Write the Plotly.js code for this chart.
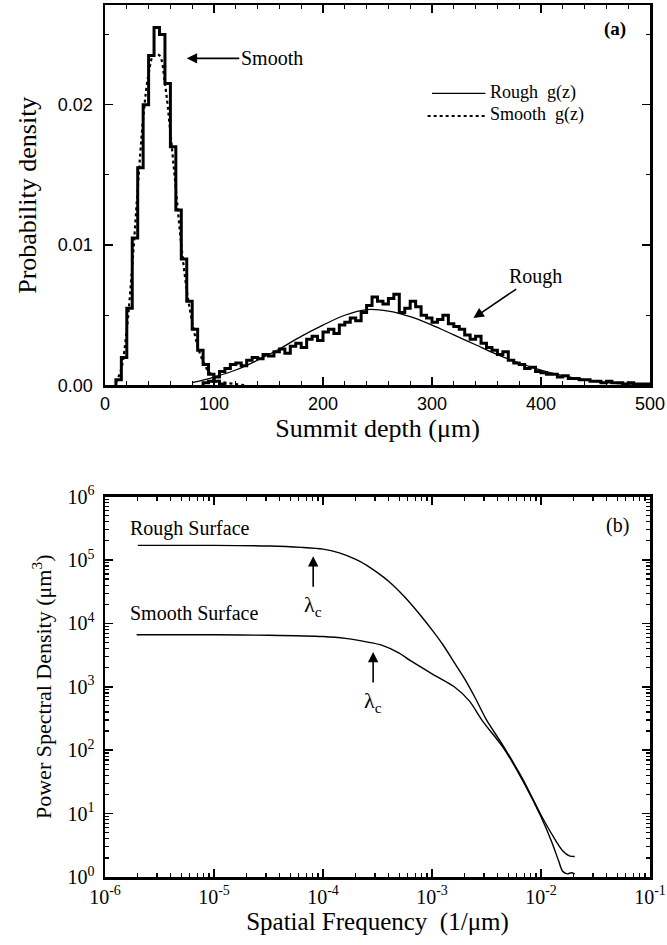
<!DOCTYPE html>
<html><head><meta charset="utf-8">
<script src="https://cdn.plot.ly/plotly-3.0.1.min.js"></script>
<style>body{margin:0;background:#fff}</style>
</head><body><div id="chart" style="width:667px;height:945px"></div>
<script>
// ---------- Panel (a): summit depth histograms ----------
const binWidth = 5;
const smoothBinStart = [10,15,20,25,30,35,40,45,50,55,60,65,70,75,80,85,90,95,100,105];
const smoothHist = [0.0004,0.0020,0.0055,0.0105,0.0155,0.0200,0.0235,0.0255,0.0250,0.0215,0.0170,0.0125,0.0090,0.0060,0.0040,0.0025,0.0015,0.0008,0.0003,0.0001];
const roughBinStart = [90,95,100,105,110,115,120,125,130,135,140,145,150,155,160,165,170,175,180,185,190,195,200,205,210,215,220,225,230,235,240,245,250,255,260,265,270,275,280,285,290,295,300,305,310,315,320,325,330,335,340,345,350,355,360,365,370,375,380,385,390,395,400,405,410,415,420,425,430,435,440,445,450,455,460,465,470,475,480,485,490,495];
const roughHist = [0.0002,0.0003,0.0006,0.0010,0.0012,0.0015,0.0016,0.0014,0.0018,0.0020,0.0019,0.0022,0.0021,0.0024,0.0026,0.0023,0.0028,0.0030,0.0027,0.0033,0.0035,0.0032,0.0038,0.0040,0.0037,0.0043,0.0045,0.0048,0.0046,0.0052,0.0057,0.0063,0.0060,0.0058,0.0062,0.0065,0.0052,0.0055,0.0060,0.0056,0.0050,0.0048,0.0045,0.0047,0.0050,0.0044,0.0042,0.0040,0.0036,0.0033,0.0035,0.0030,0.0027,0.0025,0.0022,0.0024,0.0018,0.0016,0.0015,0.0012,0.0013,0.0010,0.0009,0.0008,0.0008,0.0006,0.0007,0.0005,0.0005,0.0004,0.0004,0.0003,0.0003,0.0002,0.0003,0.0002,0.0002,0.0001,0.0002,0.0001,0.0001,0.0001];
const roughGzDepth = [80,100,120,140,160,180,200,220,240,260,280,300,320,340,360,380,400,420,440,460,480,500];
const roughGz = [0.0002,0.0006,0.0011,0.0018,0.0026,0.0035,0.0043,0.0050,0.0054,0.0053,0.0049,0.0043,0.0036,0.0029,0.0022,0.0016,0.0011,0.0007,0.0004,0.0002,0.0001,0.0001];
const smoothGzDepth = [10,15,20,25,30,35,40,45,50,55,60,65,70,75,80,85,90,95,100,105,110,120,130];
const smoothGz = [0.0002,0.0012,0.0040,0.0085,0.0140,0.0190,0.0222,0.0236,0.0235,0.0215,0.0180,0.0140,0.0100,0.0068,0.0045,0.0028,0.0017,0.0010,0.0006,0.0003,0.0002,0.0001,0.0000];

// ---------- Panel (b): power spectral density ----------
const freqRough = [2.0e-6,1.0e-5,3.2e-5,6.3e-5,1.0e-4,1.41e-4,2.0e-4,2.5e-4,3.16e-4,4.0e-4,5.0e-4,6.3e-4,7.9e-4,1.0e-3,1.26e-3,1.58e-3,2.0e-3,2.5e-3,3.16e-3,4.5e-3,6.8e-3,1.0e-2,1.29e-2,1.58e-2,1.82e-2,2.04e-2];
const psdRough = [1.70e5,1.70e5,1.66e5,1.58e5,1.48e5,1.29e5,1.02e5,8.3e4,6.3e4,4.6e4,3.2e4,2.1e4,1.32e4,7.9e3,4.6e3,2.5e3,1.32e3,6.6e2,3.0e2,1.17e2,35,9.5,4.4,2.6,2.15,2.1];
const freqSmooth = [1.95e-6,1.0e-5,3.2e-5,1.0e-4,1.6e-4,2.5e-4,3.5e-4,5.0e-4,6.3e-4,1.0e-3,1.6e-3,2.2e-3,2.9e-3,4.5e-3,6.8e-3,1.0e-2,1.26e-2,1.45e-2,1.58e-2,1.74e-2,1.9e-2,2.04e-2];
const psdSmooth = [6.6e3,6.6e3,6.5e3,6.2e3,5.8e3,5.1e3,4.5e3,3.4e3,2.6e3,1.6e3,1.0e3,6.0e2,2.9e2,1.1e2,33,8.9,3.5,1.8,1.23,1.12,1.17,1.12];

const freqTickVals = [1e-6,1e-5,1e-4,1e-3,1e-2,1e-1];
const freqTickText = ['10<sup>-6</sup>','10<sup>-5</sup>','10<sup>-4</sup>','10<sup>-3</sup>','10<sup>-2</sup>','10<sup>-1</sup>'];
const psdTickVals = [1,10,100,1e3,1e4,1e5,1e6];
const psdTickText = ['10<sup>0</sup>','10<sup>1</sup>','10<sup>2</sup>','10<sup>3</sup>','10<sup>4</sup>','10<sup>5</sup>','10<sup>6</sup>'];

function steps(starts, vals, w){
  const xs=[starts[0]], ys=[0];
  for(let i=0;i<starts.length;i++){ xs.push(starts[i]); ys.push(vals[i]); }
  const end = starts[starts.length-1]+w;
  xs.push(end); ys.push(vals[vals.length-1]);
  xs.push(end); ys.push(0);
  return {x:xs, y:ys};
}
const sS = steps(smoothBinStart, smoothHist, binWidth);
const rS = steps(roughBinStart, roughHist, binWidth);

const SERIF = 'Liberation Serif, Times New Roman, serif';
const SANS = 'Liberation Sans, Arial, sans-serif';

const traces = [
  {x:sS.x, y:sS.y, xaxis:'x', yaxis:'y', mode:'lines', line:{shape:'hv', color:'#000', width:3}},
  {x:rS.x, y:rS.y, xaxis:'x', yaxis:'y', mode:'lines', line:{shape:'hv', color:'#000', width:3}},
  {x:roughGzDepth, y:roughGz, xaxis:'x', yaxis:'y', mode:'lines', line:{shape:'spline', color:'#000', width:1.3}},
  {x:smoothGzDepth, y:smoothGz, xaxis:'x', yaxis:'y', mode:'lines', line:{shape:'spline', color:'#000', width:2.2, dash:'dot'}},
  {x:freqRough, y:psdRough, xaxis:'x2', yaxis:'y2', mode:'lines', line:{shape:'spline', smoothing:0.8, color:'#000', width:1.4}},
  {x:freqSmooth, y:psdSmooth, xaxis:'x2', yaxis:'y2', mode:'lines', line:{shape:'spline', smoothing:0.8, color:'#000', width:1.4}}
];

const axBase = {showline:true, linewidth:2.5, linecolor:'#000', mirror:'allticks', ticks:'inside', ticklen:8, tickwidth:1.5, tickcolor:'#000', showgrid:false, zeroline:false};

const layout = {
  width:667, height:945, margin:{l:105, r:17, t:5, b:68},
  paper_bgcolor:'#fff', plot_bgcolor:'#fff', showlegend:false,
  xaxis: Object.assign({}, axBase, {domain:[0,1], anchor:'y', range:[0,500], tickmode:'linear', tick0:0, dtick:100,
    minor:{ticks:'inside', ticklen:4, tickwidth:1.2, tickcolor:'#000', dtick:20},
    tickfont:{family:SANS, size:18, color:'#000'},
    title:{text:'Summit depth (\u03bcm)', font:{family:SERIF, size:26, color:'#000'}, standoff:6}}),
  yaxis: Object.assign({}, axBase, {domain:[0.5637,1], anchor:'x', range:[0,0.0271], tickmode:'linear', tick0:0, dtick:0.01, tickformat:'.2f',
    minor:{ticks:'inside', ticklen:4, tickwidth:1.2, tickcolor:'#000', dtick:0.005},
    tickfont:{family:SANS, size:18, color:'#000'}, ticklabelstandoff:6,
    title:{text:'Probability density', font:{family:SERIF, size:26, color:'#000'}, standoff:14}}),
  xaxis2: Object.assign({}, axBase, {type:'log', domain:[0,1], anchor:'y2', range:[-6,-1], tickmode:'array', tickvals:freqTickVals, ticktext:freqTickText,
    minor:{ticks:'inside', ticklen:4, tickwidth:1.2, tickcolor:'#000', dtick:'D1'},
    tickfont:{family:SERIF, size:20, color:'#000'},
    title:{text:'Spatial Frequency  (1/\u03bcm)', font:{family:SERIF, size:25, color:'#000'}, standoff:2}}),
  yaxis2: Object.assign({}, axBase, {type:'log', domain:[0,0.4363], anchor:'x2', range:[0,6], tickmode:'array', tickvals:psdTickVals, ticktext:psdTickText,
    minor:{ticks:'inside', ticklen:4, tickwidth:1.2, tickcolor:'#000', dtick:'D1'},
    tickfont:{family:SERIF, size:20, color:'#000'}, ticklabelstandoff:4,
    title:{text:'Power Spectral Density (\u03bcm<sup>3</sup>)', font:{family:SERIF, size:22, color:'#000'}, standoff:10}}),
  shapes:[
    {type:'line', xref:'x', yref:'y', x0:300, x1:349, y0:0.0208, y1:0.0208, line:{color:'#000', width:1.3}},
    {type:'line', xref:'x', yref:'y', x0:296, x1:349, y0:0.0192, y1:0.0192, line:{color:'#000', width:2, dash:'dot'}}
  ],
  annotations:[
    {xref:'x', yref:'y', x:468, y:0.0254, text:'<b>(a)</b>', showarrow:false, font:{family:SERIF, size:19, color:'#000'}},
    {xref:'x', yref:'y', x:351, y:0.0209, text:'Rough\u00a0\u00a0g(z)', xanchor:'left', showarrow:false, font:{family:SERIF, size:18, color:'#000'}},
    {xref:'x', yref:'y', x:351, y:0.0193, text:'Smooth\u00a0\u00a0g(z)', xanchor:'left', showarrow:false, font:{family:SERIF, size:18, color:'#000'}},
    {xref:'x', yref:'y', x:75, y:0.0233, text:'Smooth', showarrow:true, ax:85, ay:0, arrowhead:2, arrowsize:1.3, arrowwidth:1.6, arrowcolor:'#000', font:{family:SERIF, size:20, color:'#000'}},
    {xref:'x', yref:'y', x:338, y:0.0048, text:'Rough', showarrow:true, ax:62, ay:-42, arrowhead:2, arrowsize:1.3, arrowwidth:1.6, arrowcolor:'#000', font:{family:SERIF, size:20, color:'#000'}},
    {xref:'x2', yref:'y2', x:-1.3, y:5.55, text:'(b)', showarrow:false, font:{family:SERIF, size:20, color:'#000'}},
    {xref:'x2', yref:'y2', x:-5.79, y:5.5, text:'Rough Surface', xanchor:'left', showarrow:false, font:{family:SERIF, size:20, color:'#000'}},
    {xref:'x2', yref:'y2', x:-5.79, y:4.17, text:'Smooth Surface', xanchor:'left', showarrow:false, font:{family:SERIF, size:20, color:'#000'}},
    {xref:'x2', yref:'y2', x:-4.09, y:5.06, text:'\u03bb<sub>c</sub>', showarrow:true, ax:0, ay:50, arrowhead:2, arrowsize:1.3, arrowwidth:1.6, arrowcolor:'#000', startstandoff:4, font:{family:SERIF, size:22, color:'#000'}},
    {xref:'x2', yref:'y2', x:-3.54, y:3.55, text:'\u03bb<sub>c</sub>', showarrow:true, ax:0, ay:50, arrowhead:2, arrowsize:1.3, arrowwidth:1.6, arrowcolor:'#000', startstandoff:4, font:{family:SERIF, size:22, color:'#000'}}
  ]
};

Plotly.newPlot('chart', traces, layout, {staticPlot:true});
</script></body></html>
